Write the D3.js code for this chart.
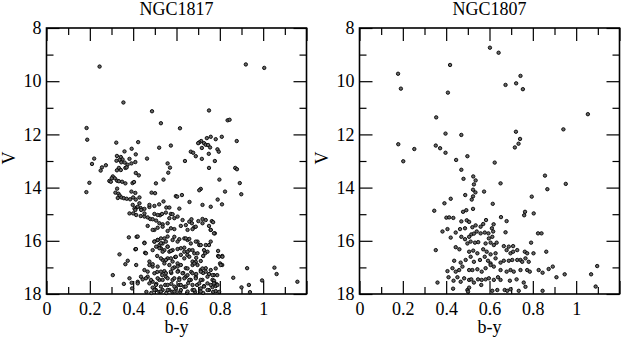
<!DOCTYPE html>
<html>
<head>
<meta charset="utf-8">
<script src="https://cdn.jsdelivr.net/npm/d3@7"></script>
<style>
  html, body { margin: 0; padding: 0; background: #fff; }
  text { font-family: "Liberation Serif", "DejaVu Serif", serif; fill: #000; }
</style>
</head>
<body>
<div id="chart"></div>
<script>
// b-y colour, V magnitude
var ngc1817 = [
  [0.245,9.45],[0.92,9.37],[1.005,9.5],[0.355,10.8],[0.487,11.13],[0.75,11.1],[0.836,11.47],[0.845,11.45],[0.528,11.58],[0.616,11.77],
  [0.185,11.76],[0.188,12.2],[0.22,12.91],[0.21,13.11],[0.198,13.82],[0.184,14.17],[0.274,13.16],[0.256,13.24],[0.25,13.36],
  [0.322,12.31],[0.423,12.29],[0.393,12.54],[0.36,12.64],[0.52,12.5],[0.412,12.75],[0.464,12.91],
  [0.325,12.81],[0.343,12.85],[0.351,12.94],[0.337,12.96],[0.323,12.99],[0.345,13.05],[0.361,13.06],[0.383,12.92],[0.374,13.14],[0.392,13.09],[0.41,13.04],
  [0.334,13.26],[0.325,13.35],[0.343,13.34],[0.364,13.26],[0.37,13.24],[0.412,13.45],[0.426,13.54],
  [0.306,13.58],[0.315,13.65],[0.301,13.65],[0.29,13.75],[0.297,13.78],[0.326,13.74],[0.334,13.76],[0.349,13.78],[0.364,13.84],[0.397,13.83],[0.404,13.79],[0.505,13.84],
  [0.326,14.04],[0.318,14.19],[0.332,14.23],[0.338,14.3],[0.346,14.37],[0.329,14.39],[0.357,14.4],[0.37,14.42],[0.386,14.44],[0.4,14.37],[0.412,14.45],[0.392,14.15],[0.41,14.2],[0.429,14.37],
  [0.501,14.21],[0.485,14.19],
  [0.429,14.59],[0.414,14.76],[0.435,14.77],[0.406,14.79],[0.452,14.8],[0.475,14.73],[0.498,14.69],[0.52,14.63],[0.553,14.75],[0.398,14.65],[0.421,14.72],[0.41,14.84],[0.437,14.84],[0.475,14.65],
  [0.383,14.97],[0.4,14.97],[0.435,15.07],[0.452,15.09],[0.467,15.12],[0.479,15.18],[0.498,14.99],[0.524,15.04],[0.414,15.03],[0.452,14.97],
  [0.49,15.19],[0.506,15.24],[0.521,15.34],[0.536,15.38],[0.513,15.03],[0.533,14.99],[0.551,14.94],[0.574,14.99],[0.567,15.15],[0.59,15.15],[0.605,15.09],
  [0.628,15.22],[0.659,15.28],[0.643,15.41],[0.671,15.34],[0.682,15.49],[0.701,15.26],[0.72,15.34],[0.735,15.22],[0.763,15.26],[0.75,15.44],
  [0.498,15.59],[0.536,15.47],[0.559,15.34],[0.574,15.53],[0.669,15.19],[0.72,15.18],
  [0.74,12.14],[0.758,12.09],[0.781,12.18],[0.809,12.09],[0.878,12.25],[0.714,12.25],[0.705,12.3],[0.7,12.33],[0.727,12.33],[0.735,12.39],[0.746,12.4],[0.755,12.49],[0.717,12.51],
  [0.574,12.42],[0.789,12.56],[0.795,12.65],[0.666,12.65],[0.677,12.69],[0.689,12.82],[0.749,12.73],[0.717,12.92],[0.639,13.0],[0.777,13.0],
  [0.559,13.09],[0.57,13.25],[0.562,13.44],[0.75,13.26],[0.871,13.26],[0.879,13.31],[0.54,13.7],[0.798,13.7],[0.892,13.83],[0.712,14.05],[0.705,14.1],[0.824,14.15],
  [0.597,14.32],[0.603,14.34],[0.625,14.28],[0.899,14.25],[0.54,14.52],[0.66,14.54],[0.79,14.45],[0.81,14.63],[0.72,14.65],[0.758,14.72],[0.567,14.75],[0.613,14.79],[0.582,15.0],
  [0.769,15.3],[0.758,15.59],[0.777,15.72],[0.75,16.16],[0.743,16.41],[0.732,16.47],[0.792,16.38],[0.792,16.57],[0.811,16.57],[0.801,16.85],[0.811,16.91],
  [0.926,17.03],[1.052,17.01],[1.062,17.25],[0.862,17.39],[0.995,17.49],[1.158,17.54],[0.934,17.66],[0.9,17.75],[0.939,17.93],
  [0.38,15.87],[0.416,15.85],[0.452,16.07],[0.41,16.32],[0.455,16.45],
  [0.498,16.03],[0.513,15.97],[0.528,15.91],[0.536,16.1],[0.551,16.03],[0.521,16.16],[0.506,16.22],[0.528,16.28],[0.544,16.35],[0.559,16.22],[0.567,16.41],[0.582,16.35],
  [0.59,15.85],[0.613,15.94],[0.636,15.91],[0.651,15.97],[0.666,16.1],[0.697,16.03],[0.705,16.16],[0.735,16.16],[0.758,16.03],
  [0.62,16.28],[0.636,16.41],[0.659,16.35],[0.682,16.47],
  [0.337,16.51],[0.364,16.88],[0.375,16.75],[0.414,16.91],[0.452,17.1],[0.49,16.97],[0.475,16.78],
  [0.536,16.72],[0.559,16.66],[0.582,16.78],[0.605,16.85],[0.567,16.91],[0.59,17.0],[0.62,16.91],[0.643,17.03],[0.674,16.78],[0.697,16.91],[0.712,17.1],[0.735,17.03],[0.758,17.1],
  [0.511,16.57],[0.594,16.61],[0.65,16.53],[0.691,16.64],[0.723,16.57],
  [0.306,17.29],[0.357,17.62],[0.393,17.58],[0.383,17.41],[0.395,17.79],[0.421,17.54],[0.467,17.35],[0.444,17.45],[0.49,17.76],[0.505,17.85],
  [0.49,17.54],[0.521,17.47],[0.551,17.35],[0.582,17.47],[0.613,17.41],[0.643,17.35],[0.666,17.47],[0.689,17.35],[0.72,17.47],[0.743,17.6],[0.766,17.47],
  [0.536,17.85],[0.567,17.85],[0.597,17.79],[0.636,17.73],[0.674,17.85],[0.712,17.79],[0.75,17.85],
  [0.511,17.17],[0.544,17.14],[0.576,17.21],[0.608,17.14],[0.631,17.21],[0.668,17.17],[0.691,17.25],[0.723,17.21],[0.773,17.29],[0.534,17.29],
  [0.507,17.62],[0.548,17.66],[0.576,17.62],[0.613,17.66],[0.654,17.59],[0.695,17.66],[0.727,17.7],[0.766,17.74],[0.783,17.62],
  [0.521,17.92],[0.553,17.96],[0.581,17.92],[0.617,17.92],[0.649,17.96],[0.686,17.92],[0.723,17.96],[0.769,17.92],[0.797,17.92],[0.461,17.92],[0.484,17.96],
  [0.75,17.25],[0.788,17.29],[0.773,17.5],[0.781,17.7],
  // lower main sequence, second pass
  [0.467,15.44],[0.49,15.59],[0.513,15.51],[0.559,15.63],[0.59,15.56],[0.62,15.44],[0.651,15.59],[0.674,15.56],[0.689,15.47],[0.758,15.59],[0.773,15.72],[0.421,15.84],
  [0.452,16.09],[0.498,16.03],[0.513,15.97],[0.528,16.09],[0.544,15.91],[0.559,15.84],[0.582,15.97],[0.605,16.03],[0.643,15.91],[0.659,15.93],[0.689,16.03],[0.712,16.16],
  [0.413,16.31],[0.459,16.47],[0.49,16.35],[0.521,16.28],[0.536,16.41],[0.559,16.22],[0.574,16.38],[0.605,16.31],[0.636,16.26],[0.651,16.41],[0.674,16.35],[0.697,16.47],[0.727,16.35],[0.796,16.6],[0.812,16.6],
  [0.528,16.66],[0.551,16.72],[0.574,16.66],[0.597,16.6],[0.62,16.53],[0.636,16.66],[0.659,16.6],[0.689,16.79],[0.712,16.76],
  [0.475,16.91],[0.49,16.88],[0.513,16.97],[0.544,16.85],[0.582,17.04],[0.605,16.97],[0.651,17.04],[0.674,16.91],[0.682,16.85],[0.72,17.04],[0.781,17.04],[0.804,16.91],
  [0.467,17.16],[0.498,17.22],[0.528,17.16],[0.551,17.22],[0.574,17.16],[0.605,17.16],[0.628,17.22],[0.651,17.29],[0.674,17.22],[0.712,17.16],[0.735,17.16],
  [0.436,17.35],[0.459,17.41],[0.482,17.47],[0.513,17.41],[0.536,17.47],[0.559,17.41],[0.59,17.41],[0.613,17.47],[0.636,17.41],[0.659,17.47],[0.689,17.41],[0.712,17.47],[0.743,17.35],[0.766,17.29],
  [0.421,17.6],[0.475,17.6],[0.505,17.66],[0.528,17.72],[0.559,17.66],[0.59,17.72],[0.62,17.66],[0.643,17.72],[0.674,17.66],[0.705,17.6],[0.727,17.72],[0.758,17.66],[0.773,17.6],[0.789,17.66],
  [0.498,17.85],[0.528,17.91],[0.559,17.85],[0.59,17.91],[0.62,17.85],[0.651,17.91],[0.682,17.85],[0.712,17.91],[0.743,17.85],[0.781,17.89]
];

var ngc1807 = [
  [0.602,8.74],[0.642,8.93],[0.178,9.72],[0.418,9.39],[0.743,9.8],[0.191,10.28],[0.408,10.43],[0.674,10.14],[0.723,10.08],[0.754,10.3],[0.354,11.36],[1.054,11.24],
  [0.397,11.97],[0.47,12.02],[0.722,11.9],[0.941,11.81],[0.741,12.17],[0.734,12.35],[0.717,12.49],[0.179,12.37],[0.253,12.55],[0.352,12.42],[0.372,12.52],[0.397,12.69],
  [0.202,13.01],[0.446,12.96],[0.498,12.82],[0.624,13.06],[0.47,13.33],[0.525,13.58],[0.48,13.67],[0.536,13.73],[0.528,13.88],[0.651,13.84],[0.856,13.55],[0.952,13.86],
  [0.524,14.08],[0.535,14.18],[0.575,14.15],[0.867,14.06],[0.488,14.28],[0.524,14.33],[0.518,14.45],[0.421,14.42],[0.795,14.34],[0.392,14.59],[0.615,14.61],
  [0.345,14.87],[0.478,14.91],[0.493,14.85],[0.524,14.8],[0.764,14.91],[0.76,15.04],[0.804,14.97],[0.401,15.13],[0.414,15.12],[0.433,15.14],
  [0.47,15.27],[0.495,15.23],[0.506,15.29],[0.653,15.11],[0.679,15.26],
  [0.521,15.49],[0.536,15.42],[0.559,15.47],[0.571,15.37],[0.584,15.22],[0.619,15.38],[0.611,15.53],[0.406,15.56],[0.464,15.56],[0.487,15.53],
  [0.383,15.65],[0.421,15.88],[0.444,15.69],
  [0.516,15.76],[0.528,15.73],[0.541,15.65],[0.559,15.72],[0.578,15.69],[0.595,15.72],[0.597,15.91],[0.613,15.85],[0.617,15.65],
  [0.47,15.85],[0.487,15.94],[0.506,15.85],[0.674,15.68],
  [0.498,16.1],[0.513,16.03],[0.533,16.07],[0.548,16.05],[0.582,16.1],[0.605,16.07],[0.62,16.16],[0.633,16.07],
  [0.792,16.07],[0.824,15.72],[0.84,15.72],[0.352,16.35],[0.444,16.24],[0.461,16.32],
  [0.506,16.41],[0.525,16.37],[0.544,16.47],[0.571,16.32],[0.587,16.41],[0.605,16.51],[0.628,16.47],
  [0.666,16.2],[0.689,16.22],[0.709,16.2],[0.679,16.35],[0.697,16.47],[0.709,16.41],[0.728,16.35],[0.763,16.41],[0.774,16.47],[0.803,16.47],[0.862,16.41],
  [0.437,16.75],[0.467,16.82],[0.49,16.72],[0.513,16.6],[0.528,16.79],[0.556,16.72],[0.578,16.6],[0.593,16.75],[0.605,16.85],[0.628,16.66],
  [0.651,16.82],[0.666,16.75],[0.689,16.75],[0.705,16.72],[0.728,16.72],[0.743,16.72],[0.751,16.79],[0.766,16.66],[0.781,16.79],
  [0.406,17.14],[0.429,17.03],[0.444,17.16],[0.46,17.1],[0.475,16.97],[0.506,17.1],[0.521,17.1],[0.544,17.07],[0.564,17.16],[0.582,17.03],
  [0.605,16.91],[0.62,16.97],[0.651,17.1],[0.679,17.16],[0.697,17.1],[0.712,17.16],[0.743,17.1],[0.774,17.1],[0.786,17.16],
  [0.827,17.1],[0.845,17.2],[0.873,17.06],[0.892,16.97],[0.909,17.37],[0.947,17.26],[1.069,17.26],[1.097,16.95],[0.36,17.57],
  [0.411,17.37],[0.434,17.5],[0.452,17.37],[0.467,17.54],[0.483,17.41],[0.506,17.47],[0.516,17.45],[0.528,17.57],[0.547,17.45],[0.564,17.47],
  [0.582,17.45],[0.597,17.41],[0.62,17.47],[0.639,17.37],[0.651,17.47],[0.694,17.5],[0.725,17.45],[0.758,17.57],
  [0.432,17.8],[0.498,17.85],[0.506,17.76],[0.501,17.91],[0.562,17.66],[0.613,17.88],[0.636,17.85],[0.67,17.85],[0.682,17.88],[0.697,17.82],
  [0.735,17.88],[0.766,17.73],[0.845,17.88],[1.09,17.72]
];

var xMajor = [0, 0.2, 0.4, 0.6, 0.8, 1, 1.2];
var xMinor = [0.1, 0.3, 0.5, 0.7, 0.9, 1.1];
var yMajor = [8, 10, 12, 14, 16, 18];
var yMinor = [9, 11, 13, 15, 17];

var W = 622, H = 342;
var plotW = 260, plotH = 266, plotTop = 28;
var panels = [
  { title: "NGC1817", left: 46.5, data: ngc1817 },
  { title: "NGC1807", left: 359.5, data: ngc1807 }
];

var svg = d3.select("#chart").append("svg")
  .attr("width", W)
  .attr("height", H);

var x = d3.scaleLinear().domain([0, 1.2]).range([0, plotW]);
var y = d3.scaleLinear().domain([8, 18]).range([0, plotH]);

panels.forEach(function (p) {
  var g = svg.append("g").attr("transform", "translate(" + p.left + "," + plotTop + ")");

  // minor ticks
  var minors = [
    [d3.axisBottom(x), "translate(0," + plotH + ")", xMinor],
    [d3.axisTop(x), "translate(0,0)", xMinor],
    [d3.axisLeft(y), "translate(0,0)", yMinor],
    [d3.axisRight(y), "translate(" + plotW + ",0)", yMinor]
  ];
  minors.forEach(function (m) {
    g.append("g").attr("class", "minor").attr("transform", m[1])
      .call(m[0].tickValues(m[2]).tickSize(-7).tickFormat(""));
  });

  // major ticks
  g.append("g").attr("transform", "translate(0," + plotH + ")")
    .call(d3.axisBottom(x).tickValues(xMajor).tickSize(-13).tickPadding(8)
      .tickFormat(function (d) { return d > 1.1 ? "" : String(+d.toFixed(1)); }));
  g.append("g")
    .call(d3.axisTop(x).tickValues(xMajor).tickSize(-13).tickFormat(""));
  g.append("g")
    .call(d3.axisLeft(y).tickValues(yMajor).tickSize(-13).tickPadding(5).tickFormat(d3.format("d")));
  g.append("g").attr("transform", "translate(" + plotW + ",0)")
    .call(d3.axisRight(y).tickValues(yMajor).tickSize(-13).tickFormat(""));

  g.selectAll(".domain").remove();
  g.selectAll("g").attr("font-family", "'Liberation Serif', serif").attr("font-size", 18);
  g.selectAll(".tick line").attr("stroke", "#000").attr("stroke-width", 1.2);
  g.selectAll(".tick text")
    .style("font-family", "'Liberation Serif', serif")
    .style("font-size", "18px")
    .attr("fill", "#000");

  // frame
  g.append("rect")
    .attr("width", plotW)
    .attr("height", plotH)
    .attr("fill", "none")
    .attr("stroke", "#000")
    .attr("stroke-width", 1.6);

  // stars
  g.append("g")
    .selectAll("circle")
    .data(p.data)
    .enter()
    .append("circle")
    .attr("cx", function (d) { return x(d[0]); })
    .attr("cy", function (d) { return y(d[1]); })
    .attr("r", 1.7)
    .attr("fill", "#666")
    .attr("stroke", "#000")
    .attr("stroke-width", 0.9);

  // title
  g.append("text")
    .attr("x", plotW / 2)
    .attr("y", -13)
    .attr("text-anchor", "middle")
    .style("font-size", "18px")
    .text(p.title);

  // axis titles
  g.append("text")
    .attr("x", plotW / 2)
    .attr("y", plotH + 39)
    .attr("text-anchor", "middle")
    .style("font-size", "18px")
    .text("b-y");

  g.append("text")
    .attr("transform", "translate(-32," + (plotH / 2 - 3) + ") rotate(-90)")
    .attr("text-anchor", "middle")
    .style("font-size", "18px")
    .text("V");
});
</script>
</body>
</html>
